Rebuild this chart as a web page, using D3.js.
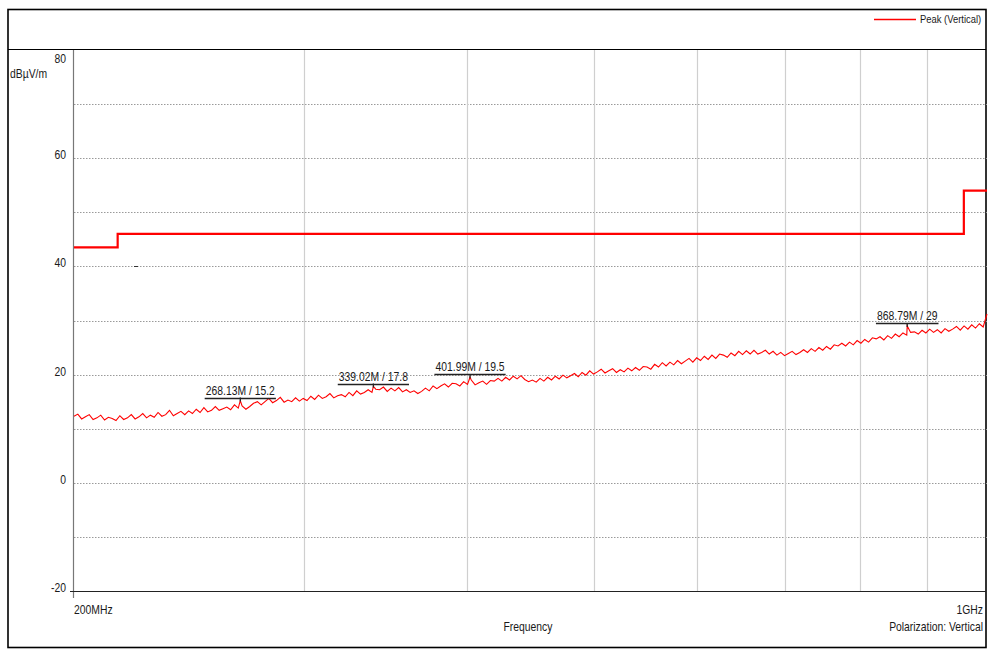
<!DOCTYPE html>
<html>
<head>
<meta charset="utf-8">
<script src="https://cdn.jsdelivr.net/npm/d3@7/dist/d3.min.js"></script>
<style>
  html, body { margin: 0; padding: 0; background: #fff; }
  svg { display: block; }
  text { font-family: "Liberation Sans", Arial, sans-serif; fill: #1a1a1a; }
</style>
</head>
<body>
<svg id="chart" width="989" height="650"></svg>
<script>
// ---- data ----
const fStart = 200, fStop = 1000; // MHz
const traceValues = [
  12.3, 12.7, 11.8, 12.2, 12.6, 11.7, 12.0, 12.5, 11.6, 12.1,
  11.9, 11.5, 12.4, 11.7, 12.0, 12.6, 11.8, 12.2, 12.8, 12.0,
  12.5, 12.1, 13.0, 12.3, 12.6, 13.4, 12.4, 12.8, 13.2, 12.6,
  13.3, 12.8, 13.6, 13.0, 13.9, 13.1, 13.4, 14.1, 13.4, 13.7,
  14.0, 13.5, 14.4, 13.8, 14.2, 13.6, 14.1, 14.7, 15.0, 14.4,
  15.0, 15.6, 14.8, 15.2, 15.8, 14.9, 15.3, 15.0, 15.7, 15.1,
  15.6, 15.2, 16.0, 15.4, 16.2, 15.6, 15.9, 16.5, 15.7, 16.1,
  16.3, 15.9, 16.7, 16.1, 17.0, 16.4, 16.7, 17.2, 16.7, 17.3,
  17.2, 17.7, 16.9, 17.5, 17.0, 17.6, 16.8, 17.2, 16.7, 17.0,
  16.5, 16.9, 17.5, 17.0, 17.9, 17.4, 17.9, 18.3, 17.7, 18.4,
  18.3, 17.9, 18.7, 18.2, 19.0, 18.1, 18.5, 18.8, 18.2, 18.9,
  18.8, 19.3, 18.8, 19.5, 19.0, 19.7, 19.2, 19.8, 19.1, 18.7,
  19.0, 18.6, 19.3, 18.8, 19.5, 19.0, 19.7, 19.2, 19.9, 19.4,
  19.8, 20.2, 19.6, 20.4, 19.9, 20.7, 20.1, 20.5, 21.0, 20.3,
  20.7, 21.1, 20.4, 20.9, 20.5, 21.2, 20.7, 21.3, 20.8, 21.5,
  21.4, 21.0, 21.9, 21.4, 22.2, 21.6, 22.3, 21.8, 22.6, 22.0,
  22.5, 23.0, 22.3, 23.1, 22.6, 23.4, 22.8, 23.6, 23.0, 23.8,
  23.6, 23.2, 24.0, 23.5, 24.3, 23.7, 24.4, 23.8, 24.5, 23.8,
  24.1, 24.5, 23.8, 24.3, 23.6, 24.1, 23.5, 23.9, 24.3, 23.7,
  24.1, 24.6, 24.1, 24.8, 24.3, 25.0, 24.5, 25.2, 24.7, 25.5,
  25.3, 25.8, 25.3, 26.0, 25.5, 26.3, 25.8, 26.5, 26.0, 26.8,
  26.6, 27.0, 26.4, 27.2, 26.7, 27.5, 27.0, 27.7, 27.3, 27.8,
  27.9, 27.5, 28.2, 27.7, 28.4, 27.8, 28.3, 27.7, 28.5, 28.0,
  28.4, 28.9, 28.2, 29.0, 28.4, 29.2, 28.6, 29.4, 28.8, 31.2
];
const markerFreqs = [268.13, 339.02, 401.99, 868.79];
const markerLevels = [15.2, 17.8, 19.5, 29];
const limitFreqs = [200, 216, 960, 1000];
const limitLevels = [43.5, 46, 54, 54];
const yTickLabels = [-20, 0, 20, 40, 60, 80];
const yGridValues = [-10, 0, 10, 20, 30, 40, 50, 60, 70];
const xGridFreqs = [300, 400, 500, 600, 700, 800, 900];
const legendLabel = "Peak (Vertical)";
const yUnit = "dBµV/m";
const xTitle = "Frequency";
const startLabel = "200MHz", stopLabel = "1GHz";
const polarization = "Polarization: Vertical";

// ---- layout ----
const NARROW = 0.83;
// condensed text: draw at origin and squeeze horizontally with a transform
function narrow(sel, k = NARROW) {
  sel.each(function() {
    const t = d3.select(this);
    const tx = +t.attr("x") || 0, ty = +t.attr("y") || 0;
    t.attr("x", 0).attr("y", 0).attr("transform", `translate(${tx},${ty}) scale(${k},1)`);
  });
  return sel;
}
const svg = d3.select("#chart");
const L = 74, R = 987, T = 50, B = 591;
const x = d3.scaleLog().domain([fStart, fStop]).range([L, R]);
const y = d3.scaleLinear().domain([-20, 80]).range([B, T]);

// outer frame
svg.append("rect").attr("x", 8).attr("y", 9.5).attr("width", 978).attr("height", 638)
  .attr("fill", "none").attr("stroke", "#000").attr("stroke-width", 1.6);
svg.append("line").attr("x1", 8).attr("x2", 986).attr("y1", 49.5).attr("y2", 49.5)
  .attr("stroke", "#000").attr("stroke-width", 1);

// grid
svg.append("g").selectAll("line").data(yGridValues).join("line")
  .attr("x1", L).attr("x2", R)
  .attr("y1", d => Math.round(y(d)) + 0.5).attr("y2", d => Math.round(y(d)) + 0.5)
  .attr("stroke", "#9a9a9a").attr("stroke-width", 1).attr("stroke-dasharray", "1.5,1.5");
svg.append("g").selectAll("line").data(xGridFreqs).join("line")
  .attr("x1", d => Math.round(x(d)) + 0.5).attr("x2", d => Math.round(x(d)) + 0.5)
  .attr("y1", T).attr("y2", B)
  .attr("stroke", "#cfcfcf").attr("stroke-width", 1.2);

// axes lines
svg.append("line").attr("x1", L - 0.5).attr("x2", L - 0.5).attr("y1", T).attr("y2", B + 7)
  .attr("stroke", "#777").attr("stroke-width", 1.2);
svg.append("line").attr("x1", L - 4).attr("x2", R - 1).attr("y1", B + 0.5).attr("y2", B + 0.5)
  .attr("stroke", "#222").attr("stroke-width", 1.2);

// y tick labels
narrow(svg.append("g").selectAll("text").data(yTickLabels).join("text")
  .attr("x", 66).attr("y", d => d === 80 ? 63 : y(d) + 1)
  .attr("text-anchor", "end").attr("font-size", 12.5).text(d => d));
narrow(svg.append("text").attr("x", 10).attr("y", 78).attr("font-size", 12.5).text(yUnit));

// x labels
narrow(svg.append("text").attr("x", L).attr("y", 614).attr("font-size", 12.5).text(startLabel));
narrow(svg.append("text").attr("x", 983).attr("y", 614).attr("text-anchor", "end").attr("font-size", 12.5).text(stopLabel));
narrow(svg.append("text").attr("x", 528).attr("y", 631).attr("text-anchor", "middle").attr("font-size", 12.5).text(xTitle));
narrow(svg.append("text").attr("x", 983).attr("y", 631).attr("text-anchor", "end").attr("font-size", 12.5).text(polarization));

// limit line
const limitData = limitFreqs.map((f, i) => ({ f, v: limitLevels[i] }));
svg.append("path").datum(limitData)
  .attr("d", d3.line().x(d => x(d.f)).y(d => y(d.v)).curve(d3.curveStepAfter))
  .attr("fill", "none").attr("stroke", "#ff0000").attr("stroke-width", 2.2);
svg.append("line").attr("x1", 134).attr("x2", 138).attr("y1", 266.5).attr("y2", 266.5).attr("stroke", "#333");

// trace
const n = traceValues.length;
const pts = traceValues.map((v, i) => ({ f: fStart * Math.pow(fStop / fStart, i / (n - 1)), v }));
markerFreqs.forEach((f, i) => pts.push({ f, v: markerLevels[i] }));
pts.sort((a, b) => a.f - b.f);
svg.append("path").datum(pts)
  .attr("d", d3.line().x(d => x(d.f)).y(d => y(d.v)))
  .attr("fill", "none").attr("stroke", "#ff0000").attr("stroke-width", 1.1);

// markers
const mk = svg.append("g").selectAll("g").data(markerFreqs.map((f, i) => ({ f, v: markerLevels[i] }))).join("g");
mk.each(function(d) {
  const g = d3.select(this);
  const cx = x(d.f), cy = y(d.v);
  const t = g.append("text").attr("x", cx).attr("y", cy - 6).attr("text-anchor", "middle")
    .attr("font-size", 12.5).text(`${d.f.toFixed(2)}M / ${d.v}`);
  const w = t.node().getComputedTextLength() * NARROW;
  narrow(t);
  g.append("line").attr("x1", cx - w / 2 - 1).attr("x2", cx + w / 2 + 1)
    .attr("y1", Math.round(cy - 3) + 0.5).attr("y2", Math.round(cy - 3) + 0.5)
    .attr("stroke", "#222").attr("stroke-width", 1.3);
  g.append("line").attr("x1", cx).attr("x2", cx).attr("y1", cy - 3).attr("y2", cy + 1)
    .attr("stroke", "#222").attr("stroke-width", 1.3);
});

// legend
svg.append("line").attr("x1", 874).attr("x2", 916).attr("y1", 19.5).attr("y2", 19.5)
  .attr("stroke", "#ff0000").attr("stroke-width", 1.3);
narrow(svg.append("text").attr("x", 920).attr("y", 23).attr("font-size", 11.5).text(legendLabel), 0.82);
</script>
</body>
</html>
